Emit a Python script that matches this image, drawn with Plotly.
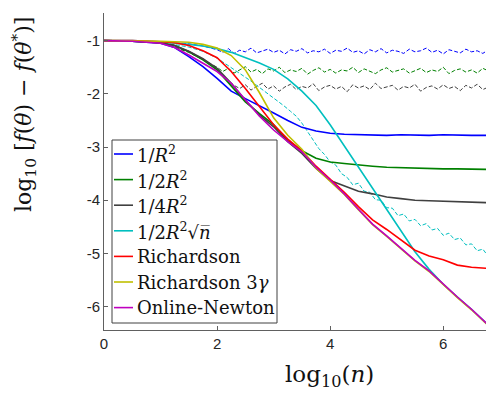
import plotly.graph_objects as go

# ---------------- data ----------------
x_solid = [0, 0.5, 1.0, 1.25, 1.5, 1.75, 2.0, 2.25, 2.5, 2.75, 3.0, 3.25, 3.5, 3.75,
           4.0, 4.25, 4.5, 4.75, 5.0, 5.25, 5.5, 5.75, 6.0, 6.25, 6.5, 6.75, 6.89]

blue_solid = [-1.0, -1.01, -1.05, -1.13, -1.30, -1.49, -1.71, -1.95, -2.09, -2.22, -2.36, -2.50, -2.63, -2.70,
              -2.74, -2.76, -2.77, -2.77, -2.78, -2.77, -2.78, -2.78, -2.77, -2.78, -2.78, -2.78, -2.78]
green_solid = [-1.0, -1.01, -1.04, -1.09, -1.21, -1.36, -1.55, -1.84, -2.15, -2.37, -2.58, -2.88, -3.07, -3.21,
               -3.28, -3.31, -3.34, -3.36, -3.38, -3.39, -3.40, -3.40, -3.41, -3.41, -3.42, -3.42, -3.42]
black_solid = [-1.0, -1.01, -1.04, -1.09, -1.20, -1.34, -1.52, -1.80, -2.12, -2.40, -2.62, -2.90, -3.12, -3.40,
               -3.63, -3.73, -3.83, -3.88, -3.94, -3.97, -4.00, -4.01, -4.02, -4.03, -4.04, -4.05, -4.05]
cyan_solid = [-1.0, -1.0, -1.02, -1.04, -1.07, -1.10, -1.15, -1.22, -1.32, -1.42, -1.54, -1.72, -1.95, -2.22,
              -2.58, -2.98, -3.38, -3.78, -4.18, -4.58, -4.97, -5.30, -5.58, -5.82, -6.05, -6.30, -6.44]
red_solid = [-1.0, -1.0, -1.02, -1.04, -1.09, -1.19, -1.32, -1.58, -1.90, -2.25, -2.58, -2.85, -3.07, -3.36,
             -3.60, -3.85, -4.12, -4.37, -4.55, -4.75, -4.94, -5.05, -5.12, -5.22, -5.26, -5.28, -5.28]
yellow_solid = [-1.0, -1.0, -1.01, -1.02, -1.03, -1.07, -1.14, -1.28, -1.55, -1.98, -2.45, -2.78, -3.04, -3.40,
                -3.64, -3.89, -4.18, -4.46, -4.68, -4.91, -5.14, -5.34, -5.59, -5.83, -6.06, -6.31, -6.45]
purple_solid = [-1.0, -1.01, -1.05, -1.13, -1.27, -1.42, -1.58, -1.80, -2.10, -2.42, -2.68, -2.90, -3.09, -3.38,
                -3.62, -3.88, -4.17, -4.45, -4.67, -4.90, -5.13, -5.33, -5.58, -5.82, -6.05, -6.30, -6.44]

x_dashed = [0, 0.5, 1.0, 1.5, 1.75,
            2.0, 2.1, 2.2, 2.3, 2.4, 2.5, 2.6, 2.7, 2.8, 2.9,
            3.0, 3.1, 3.2, 3.3, 3.4, 3.5, 3.6, 3.7, 3.8, 3.9,
            4.0, 4.1, 4.2, 4.3, 4.4, 4.5, 4.6, 4.7, 4.8, 4.9,
            5.0, 5.1, 5.2, 5.3, 5.4, 5.5, 5.6, 5.7, 5.8, 5.9,
            6.0, 6.1, 6.2, 6.3, 6.4, 6.5, 6.6, 6.7, 6.8, 6.9]

blue_dashed = [-1.0, -1.0, -1.02, -1.06, -1.10,
               -1.17, -1.22, -1.15, -1.24, -1.18, -1.21, -1.14, -1.23, -1.19, -1.16,
               -1.22, -1.18, -1.25, -1.17, -1.20, -1.15, -1.23, -1.19, -1.21, -1.16,
               -1.24, -1.18, -1.20, -1.14, -1.22, -1.19, -1.25, -1.17, -1.21, -1.15,
               -1.23, -1.18, -1.20, -1.24, -1.16, -1.21, -1.19, -1.14, -1.22, -1.18,
               -1.25, -1.17, -1.20, -1.23, -1.16, -1.21, -1.19, -1.24, -1.17, -1.22]
green_dashed = [-1.0, -1.01, -1.04, -1.22, -1.36,
                -1.50, -1.58, -1.52, -1.61, -1.55, -1.49, -1.59, -1.54, -1.62, -1.53,
                -1.57, -1.50, -1.60, -1.55, -1.58, -1.52, -1.63, -1.56, -1.51, -1.59,
                -1.54, -1.61, -1.55, -1.57, -1.50, -1.60, -1.53, -1.58, -1.62, -1.55,
                -1.51, -1.59, -1.56, -1.53, -1.61, -1.57, -1.52, -1.60, -1.55, -1.58,
                -1.50, -1.62, -1.56, -1.53, -1.59, -1.55, -1.61, -1.52, -1.57, -1.54]
black_dashed = [-1.0, -1.01, -1.04, -1.20, -1.34,
                -1.55, -1.66, -1.76, -1.84, -1.90, -1.83, -1.93, -1.86, -1.80, -1.91,
                -1.85, -1.95, -1.87, -1.82, -1.92, -1.86, -1.89, -1.81, -1.94, -1.87,
                -1.84, -1.91, -1.86, -1.96, -1.83, -1.89, -1.85, -1.92, -1.80, -1.90,
                -1.87, -1.84, -1.93, -1.86, -1.89, -1.82, -1.95, -1.88, -1.85, -1.91,
                -1.83, -1.90, -1.86, -1.94, -1.84, -1.89, -1.82, -1.92, -1.87, -1.85]
cyan_dashed = [-1.0, -1.0, -1.03, -1.12, -1.20,
               -1.33, -1.40, -1.47, -1.55, -1.62, -1.69, -1.76, -1.84, -1.92, -2.00,
               -2.08, -2.15, -2.24, -2.33, -2.42, -2.55, -2.70, -2.87, -3.03, -3.14,
               -3.28, -3.34, -3.50, -3.57, -3.71, -3.68, -3.83, -3.85, -3.99, -4.00,
               -4.14, -4.15, -4.29, -4.26, -4.39, -4.36, -4.48, -4.44, -4.56, -4.53,
               -4.66, -4.62, -4.74, -4.71, -4.84, -4.82, -4.95, -4.92, -5.06, -5.05]

x_ticks = [0, 2, 4, 6]
x_tick_labels = ["0", "2", "4", "6"]
y_ticks = [-6, -5, -4, -3, -2, -1]
y_tick_labels = ["-6", "-5", "-4", "-3", "-2", "-1"]

legend_labels = ["1/<i>R</i><sup>2</sup>",
                 "1/2<i>R</i><sup>2</sup>",
                 "1/4<i>R</i><sup>2</sup>",
                 "1/2<i>R</i><sup>2</sup>√<i>n\u0305</i>",
                 "Richardson",
                 "Richardson 3<i>γ</i>",
                 "Online-Newton"]

# ---------------- styling ----------------
C_BLUE = "#0000FF"
C_GREEN = "#008000"
C_BLACK = "#404040"
C_CYAN = "#00BFBF"
C_RED = "#FF0000"
C_YELLOW = "#BFBF00"
C_MAG = "#BF00BF"
legend_colors = [C_BLUE, C_GREEN, C_BLACK, C_CYAN, C_RED, C_YELLOW, C_MAG]

fig = go.Figure()

def add(x, y, color, dashed=False):
    fig.add_trace(go.Scatter(
        x=x, y=y, mode="lines", showlegend=False, hoverinfo="skip",
        line=dict(color=color, width=1.0 if dashed else 1.6,
                  dash="4px,2px" if dashed else "solid")))

add(x_dashed, blue_dashed, C_BLUE, True)
add(x_dashed, green_dashed, C_GREEN, True)
add(x_dashed, black_dashed, C_BLACK, True)
add(x_dashed, cyan_dashed, C_CYAN, True)
add(x_solid, blue_solid, C_BLUE)
add(x_solid, green_solid, C_GREEN)
add(x_solid, black_solid, C_BLACK)
add(x_solid, cyan_solid, C_CYAN)
add(x_solid, red_solid, C_RED)
add(x_solid, yellow_solid, C_YELLOW)
add(x_solid, purple_solid, C_MAG)

# page body has an 8px margin: lay out in page pixels, convert to figure pixels
OFF = 8
W, H = 494 - OFF, 394 - OFF
PL, PR, PT, PB = 104, 493, 13, 330          # plot area in page pixels
L, T = PL - OFF, PT - OFF
R = W - (PR - OFF)
B = H - (PB - OFF)
pw, ph = W - L - R, H - T - B

def px(xpage):
    return (xpage - OFF - L) / pw

def py(ypage):
    return (H - B - (ypage - OFF)) / ph

tick_font = dict(family="Liberation Sans, Arial, sans-serif", size=15, color="#262626")
axis_col = "#606060"

fig.update_layout(
    width=W, height=H,
    margin=dict(l=L, r=R, t=T, b=B, pad=0),
    paper_bgcolor="white", plot_bgcolor="white",
    xaxis=dict(range=[0, 6.88], tickvals=x_ticks, ticktext=x_tick_labels,
               ticks="inside", ticklen=4, tickcolor=axis_col, showline=True,
               linecolor=axis_col, linewidth=1, mirror=False, showgrid=False,
               zeroline=False, tickfont=tick_font, automargin=False),
    yaxis=dict(range=[-6.44, -0.48], tickvals=y_ticks, ticktext=y_tick_labels,
               ticks="inside", ticklen=4, tickcolor=axis_col, showline=True,
               linecolor=axis_col, linewidth=1, mirror=False, showgrid=False,
               zeroline=False, tickfont=tick_font, automargin=False),
)

serif = "DejaVu Serif, Liberation Serif, serif"

# axis titles
fig.add_annotation(xref="paper", yref="paper", x=px(329), y=py(376),
                   text="log<sub>10</sub>(<i>n</i>)", showarrow=False,
                   xanchor="center", yanchor="middle",
                   font=dict(family=serif, size=23, color="#111"))
fig.add_annotation(xref="paper", yref="paper", x=px(24), y=py(115),
                   text="log<sub>10</sub> [<i>f</i>(<i>θ</i>) − <i>f</i>(<i>θ</i><sup>*</sup>)]",
                   showarrow=False, textangle=-90, xanchor="center", yanchor="middle",
                   font=dict(family=serif, size=22, color="#111"))

# legend (drawn manually, MATLAB style)
box_l, box_r, box_t, box_b = 112, 277, 140, 323
fig.add_shape(type="rect", xref="paper", yref="paper",
              x0=px(box_l), x1=px(box_r), y0=py(box_b), y1=py(box_t),
              line=dict(color="#404040", width=1), fillcolor="white", layer="above")
row_h = 25.6
for i, (lab, col) in enumerate(zip(legend_labels, legend_colors)):
    yc = 154 + i * row_h
    fig.add_shape(type="line", xref="paper", yref="paper",
                  x0=px(114), x1=px(133), y0=py(yc), y1=py(yc),
                  line=dict(color=col, width=1.6), layer="above")
    fig.add_annotation(xref="paper", yref="paper", x=px(135), y=py(yc),
                       text=lab, showarrow=False, xanchor="left", yanchor="middle",
                       font=dict(family=serif, size=18, color="#111"))

fig.write_html("out.html")
